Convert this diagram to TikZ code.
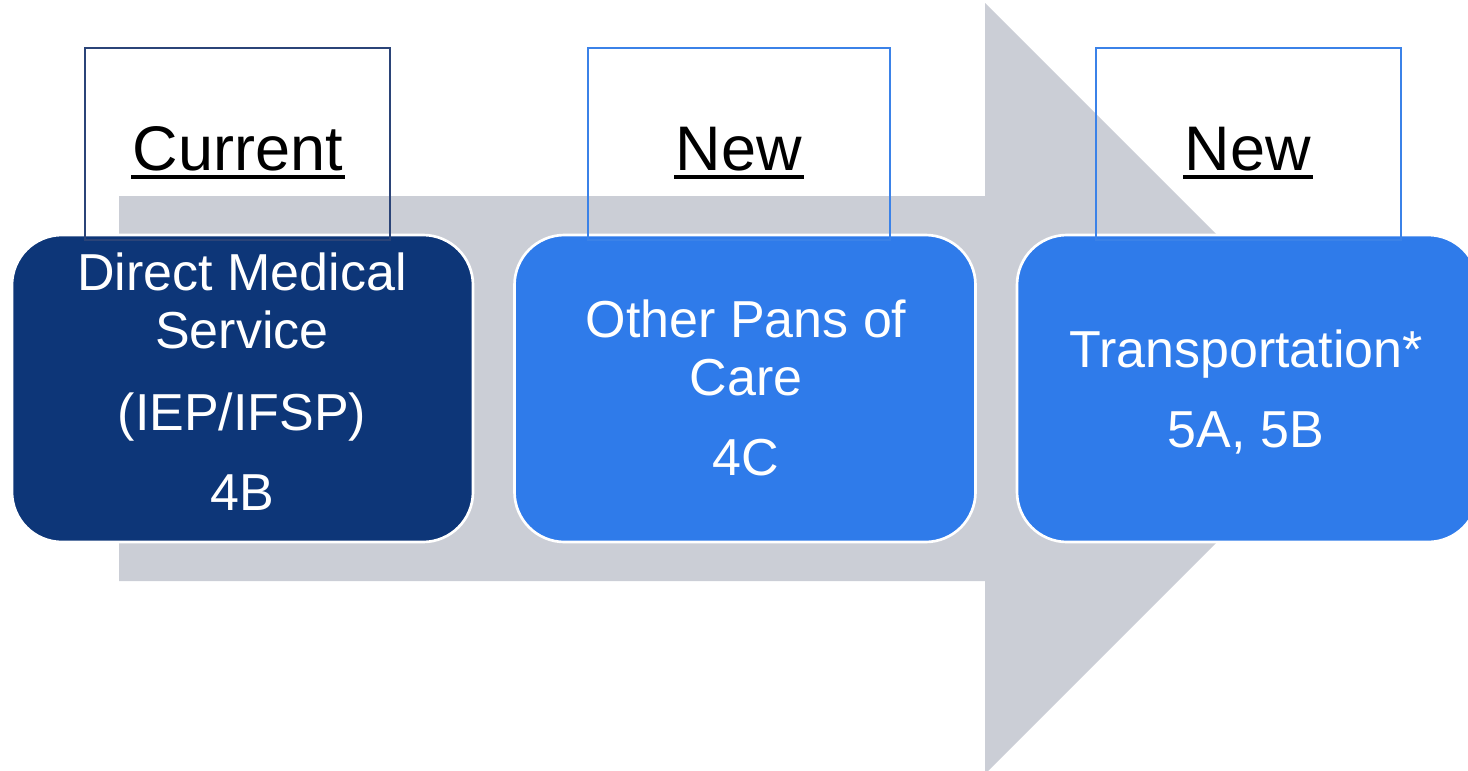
\documentclass[tikz,border=0pt]{standalone}
\usepackage{fontspec}
\setmainfont{Liberation Sans}
\definecolor{navy}{HTML}{0D3678}
\definecolor{bright}{HTML}{2F7BEA}
\definecolor{arrowgray}{HTML}{CBCED6}
\definecolor{navyline}{HTML}{2B4478}
\definecolor{brightline}{HTML}{3B82E8}
\begin{document}
\begin{tikzpicture}[x=0.75pt,y=-0.75pt,
  stagebox/.style={rounded corners=37.5pt, draw=white, line width=2pt, minimum width=345.75pt, minimum height=230.25pt, inner sep=0pt},
  headbox/.style={draw, line width=1.5pt, minimum width=228.75pt, minimum height=144pt, inner sep=0pt},
  headtext/.style={anchor=base, inner sep=0pt, font=\fontsize{47.25pt}{56pt}\selectfont, text=black},
  bodytext/.style={anchor=base, inner sep=0pt, font=\fontsize{39pt}{46pt}\selectfont, text=white},
  uline/.style={line width=3pt, black}]
\useasboundingbox (0,0) rectangle (1468,771);
\clip (0,0) rectangle (1468,771);
% big background arrow
\fill[arrowgray] (119,196) -- (985,196) -- (985,3) -- (1370.5,388.5) -- (985,774) -- (985,581) -- (119,581) -- cycle;
% stage boxes
\node[stagebox, fill=navy] (s1) at (242.5,388.5) {};
\node[stagebox, fill=bright] (s2) at (745,388.5) {};
\node[stagebox, fill=bright] (s3) at (1247.5,388.5) {};
% header frames
\node[headbox, draw=navyline] (h1) at (237.5,144) {};
\node[headbox, draw=brightline, minimum width=226.5pt] (h2) at (739,144) {};
\node[headbox, draw=brightline] (h3) at (1248.5,144) {};
% header titles
\node[headtext] (t1) at (238,170) {Current};
\node[headtext] (t2) at (739,170) {New};
\node[headtext] (t3) at (1248,170) {New};
\foreach \t in {t1,t2,t3}{
  \draw[uline] ([xshift=-1pt,yshift=-5.6pt]\t.base west) -- ([xshift=1pt,yshift=-5.6pt]\t.base east);
}
% box texts
\node[bodytext] (a1) at (242,290) {Direct Medical};
\node[bodytext] (a2) at (242,348) {Service};
\node[bodytext] (a3) at (242,430) {(IEP/IFSP)};
\node[bodytext] (a4) at (242,510) {4B};
\node[bodytext] (b1) at (746,337) {Other Pans of};
\node[bodytext] (b2) at (746,395) {Care};
\node[bodytext] (b3) at (746,475) {4C};
\node[bodytext] (c1) at (1246,367) {Transportation*};
\node[bodytext] (c2) at (1246,447) {5A, 5B};
\end{tikzpicture}
\end{document}
